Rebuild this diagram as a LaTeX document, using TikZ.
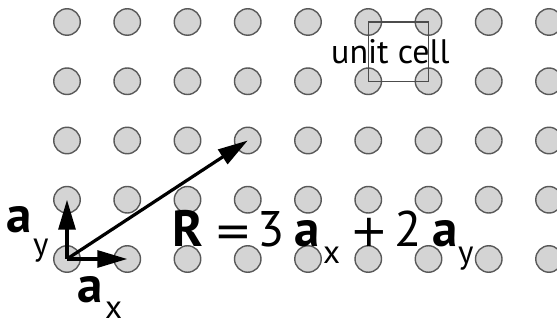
\documentclass[tikz,border=0pt]{standalone}
\usepackage{fontspec}
\setmainfont{PT Sans}
\newfontfamily\symfont{DejaVu Sans}
\usetikzlibrary{arrows.meta}
\begin{document}
\begin{tikzpicture}[x=1pt,y=-1pt,
  site/.style={circle,draw=black!65,fill=black!17,line width=1.4pt,minimum size=26.5pt,inner sep=0pt},
  vec/.style={line width=3.2pt,-{Triangle[length=30pt,width=17pt]}},
  big/.style={inner sep=0pt,anchor=base west,font=\fontsize{50}{55}\selectfont},
  bigs/.style={inner sep=0pt,anchor=base west,font=\fontsize{45}{50}\selectfont\symfont},
  bigb/.style={inner sep=0pt,anchor=base west,font=\fontsize{51}{56}\selectfont\bfseries},
  sub/.style={inner sep=0pt,anchor=base west,font=\fontsize{33}{37}\selectfont},
  lbl/.style={inner sep=0pt,anchor=base west,font=\fontsize{34}{38}\selectfont},
  cellbox/.style={draw=black!70,line width=1.4pt}]
\useasboundingbox[fill=white] (0,0) rectangle (557,323);
% square lattice of sites
\foreach \i in {0,...,8}{
  \foreach \j in {0,...,4}{
    \node[site] (c\i-\j) at ({67+60.25*\i},{259-59.25*\j}) {};
  }
}
% unit cell
\draw[cellbox] (c5-4.center) rectangle (c6-3.center);
\node[lbl] (cell) at (331,64) {unit cell};
% lattice vectors
\draw[vec] (c0-0.center) -- (c1-0.center);
\draw[vec] (c0-0.center) -- (c0-1.center);
\draw[vec] (c0-0.center) -- (c3-2.center);
% vector labels
\node[bigb] (ay) at (6,233) {a};
\node[sub] (ayi) at (33,255) {y};
\node[bigb] (ax) at (77,302) {a};
\node[sub] (axi) at (105,318) {x};
% R = 3 a_x + 2 a_y
\node[bigb] (R) at (172,247) {R};
\node[bigs] (eq) at (214,247) {=};
\node[big] (n3) at (257,247) {3};
\node[bigb] (a1) at (294,247) {a};
\node[sub] (s1) at (323,264) {x};
\node[bigs] (pl) at (350,247) {+};
\node[big] (n2) at (394,247) {2};
\node[bigb] (a2) at (432,247) {a};
\node[sub] (s2) at (458,263) {y};
\end{tikzpicture}
\end{document}
